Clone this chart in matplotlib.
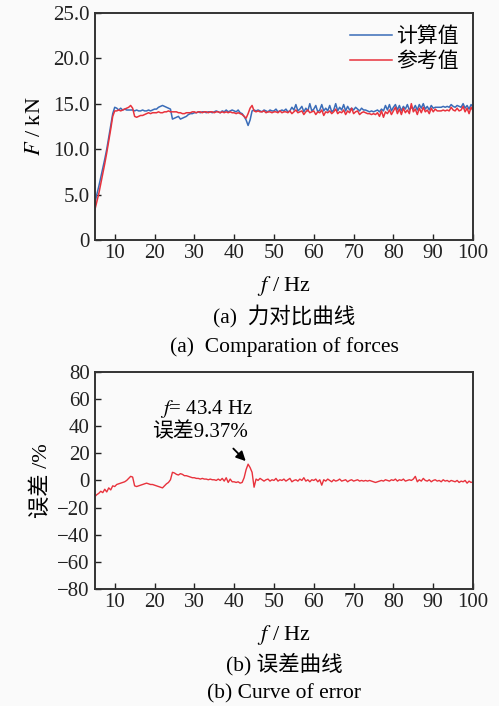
import matplotlib
matplotlib.use('Agg')
import matplotlib.pyplot as plt
import numpy as np

plt.rcParams['font.family'] = ['Liberation Serif', 'Noto Sans CJK SC']
plt.rcParams['mathtext.fontset'] = 'stix'

# 频率采样 (Hz), 0.5 Hz 间隔
freq = np.arange(5, 100.01, 0.5)

# 计算值 (kN)
f_calc = [
    4.0, 5.0, 5.9, 6.9, 7.9, 8.9, 10.0, 11.3, 12.6, 13.9,
    14.6, 14.5, 14.3, 14.5, 14.3, 14.4, 14.3, 14.3, 14.3, 14.3,
    14.2, 14.3, 14.2, 14.2, 14.3, 14.2, 14.2, 14.3, 14.2, 14.3,
    14.4, 14.4, 14.6, 14.7, 14.8, 14.7, 14.6, 14.5, 14.4, 13.3,
    13.4, 13.5, 13.6, 13.3, 13.4, 13.5, 13.6, 13.8, 13.9, 13.9,
    14.0, 14.0, 14.1, 14.0, 14.1, 14.1, 14.0, 14.1, 14.1, 14.0,
    14.1, 14.2, 14.1, 14.0, 14.2, 14.1, 14.3, 14.1, 14.2, 14.3,
    14.2, 14.1, 14.3, 14.0, 13.9, 13.6, 13.2, 12.6, 13.2, 14.2,
    14.3, 14.2, 14.3, 14.2, 14.1, 14.3, 14.2, 14.1, 14.3, 14.2,
    14.2, 14.4, 14.1, 14.2, 14.3, 14.2, 14.4, 14.1, 14.2, 14.6,
    14.3, 14.9, 14.2, 14.4, 14.7, 14.1, 14.5, 14.2, 15.0, 14.2,
    14.4, 14.8, 14.1, 14.3, 14.9, 14.2, 14.5, 14.2, 14.8, 14.1,
    14.3, 15.0, 14.2, 14.6, 14.3, 14.9, 14.2, 14.7, 14.3, 14.5,
    14.3, 14.6, 14.4, 14.2, 14.5, 14.3, 14.3, 14.2, 14.1, 14.2,
    14.1, 14.2, 14.3, 14.1, 14.4, 14.2, 14.8, 14.3, 14.9, 14.2,
    14.6, 14.9, 14.3, 14.8, 14.2, 14.7, 14.4, 14.9, 14.3, 14.6,
    14.4, 14.8, 14.3, 14.9, 14.5, 15.0, 14.4, 14.7, 14.3, 14.8,
    14.5, 14.6, 14.6, 14.6, 14.6, 14.7, 14.6, 14.7, 14.6, 14.9,
    14.7, 14.6, 14.8, 14.7, 14.6, 15.0, 14.5, 14.8, 14.4, 14.9,
    14.6,
]

# 参考值 (kN)
f_ref = [
    3.3, 4.2, 5.1, 6.2, 7.3, 8.4, 9.6, 10.9, 12.2, 13.6,
    14.2, 14.2, 14.3, 14.2, 14.3, 14.4, 14.5, 14.6, 14.8, 14.5,
    13.6, 13.5, 13.6, 13.7, 13.7, 13.8, 13.9, 14.0, 13.9, 14.0,
    14.0, 14.0, 14.1, 14.0, 14.0, 14.1, 14.1, 14.2, 14.1, 14.1,
    14.1, 14.1, 14.0, 14.0, 13.9, 13.9, 14.0, 14.0, 14.0, 14.1,
    14.1, 14.0, 14.1, 14.1, 14.0, 14.1, 14.1, 14.0, 14.1, 14.1,
    14.0, 14.1, 14.1, 14.0, 14.1, 14.0, 14.1, 14.0, 14.1, 14.0,
    14.0, 13.9, 14.0, 13.9, 13.8, 13.6, 13.4, 13.9, 14.5, 14.8,
    14.2, 14.1, 14.2, 14.1, 14.1, 14.2, 14.0, 14.1, 14.1, 14.0,
    14.1, 14.1, 14.0, 14.2, 14.0, 14.1, 14.1, 14.0, 14.2, 13.9,
    14.1, 14.3, 14.0, 14.1, 14.2, 13.8, 14.1, 14.3, 14.0, 14.1,
    14.2, 13.8, 14.1, 14.0, 14.3, 13.7, 14.1, 14.0, 14.2, 13.9,
    14.1, 14.4, 13.9, 14.1, 14.0, 14.3, 13.8, 14.2, 14.0, 14.5,
    13.9, 14.1, 14.2, 13.8, 14.0, 14.1, 14.0, 13.9, 13.9, 13.8,
    13.9, 13.8, 14.0, 13.6, 14.2, 13.5, 14.1, 13.9, 14.3, 13.8,
    14.2, 14.6, 13.9, 14.4, 13.8, 14.5, 14.0, 14.3, 13.9, 15.0,
    14.1, 14.4, 13.8, 14.5, 14.0, 14.6, 14.1, 14.3, 13.9, 14.5,
    14.1, 14.4, 14.2, 14.2, 14.2, 14.3, 14.2, 14.3, 14.2, 14.6,
    14.3, 14.2, 14.5, 14.2, 14.3, 14.7, 14.1, 14.5, 13.9, 14.6,
    14.2,
]

# 误差 (%)
err = [
    -12.0, -10.5, -9.5, -8.0, -9.0, -6.5, -8.5, -5.5, -7.0, -4.0,
    -4.5, -3.0, -2.5, -2.0, -1.5, -1.0, 0.0, 1.5, 3.0, 2.5,
    -4.0, -4.5, -4.0, -3.5, -3.0, -2.5, -2.0, -2.5, -3.0, -3.0,
    -3.5, -4.0, -4.5, -5.0, -5.5, -4.0, -2.5, -1.5, 0.5, 6.0,
    5.5, 4.5, 4.0, 5.0, 4.5, 3.5, 3.5, 3.0, 2.5, 2.0,
    2.0, 1.5, 1.5, 1.0, 1.5, 1.0, 1.0, 0.5, 1.0, 0.5,
    0.5, 0.0, 1.0, 0.0, 1.5, -0.5, 2.0, -1.5, 1.0, -1.0,
    -1.0, -1.5, -1.0, -2.0, -1.5, 2.0, 8.0, 12.0, 9.5, 6.0,
    -5.0, 1.0, 0.0, 1.5, 0.5, -0.5, 0.5, 1.0, -0.5, 0.5,
    0.0, 1.5, -0.5, 0.5, 0.0, 1.0, -0.5, 0.5, 1.5, -1.0,
    0.0, 0.5, -0.5, 1.0, 0.0, 2.0, -0.5, 0.5, -1.0, 0.5,
    0.0, 1.0, -1.0, 0.5, -3.5, 0.5, -0.5, 1.0, 0.0, -1.0,
    0.5, -0.5, 0.0, 1.0, -0.5, 0.0, 0.5, -1.0, 0.0, 0.5,
    -0.5, 0.0, 0.5, -0.5, 0.0, -0.5, 0.0, -0.5, 0.0, -0.5,
    -1.0, -1.5, -1.0, -0.5, 0.0, -0.5, 0.5, 0.0, -0.5, 0.5,
    0.0, 1.0, -0.5, 0.5, 0.0, 1.0, -0.5, 0.0, 0.5, 0.0,
    1.0, 3.0, -1.0, 0.5, -0.5, 1.5, 0.0, -0.5, 0.5, -1.0,
    0.0, 0.5, -0.5, 0.0, -1.0, 0.5, -0.5, 0.0, -1.0, 0.0,
    -0.5, -1.0, 0.0, -1.5, -0.5, -1.0, 0.0, -2.0, -0.5, -1.5,
    -1.0,
]

blue = '#3a6cb8'
red = '#e8323c'
bg = '#fafafa'

fig = plt.figure(figsize=(4.99, 7.06), dpi=100, facecolor=bg)
ax1 = fig.add_axes([0.190, 0.660, 0.758, 0.322], facecolor=bg)
ax2 = fig.add_axes([0.190, 0.166, 0.758, 0.307], facecolor=bg)

ax1.plot(freq, f_calc, color=blue, lw=1.1, label='计算值')
ax1.plot(freq, f_ref, color=red, lw=1.1, label='参考值')
ax1.set_xlim(5, 100)
ax1.set_ylim(0, 25)
ax1.set_yticks([0, 5, 10, 15, 20, 25])
ax1.set_yticklabels(['0', '5.0', '10.0', '15.0', '20.0', '25.0'])
ax1.set_ylabel(r'$F$ / kN', fontsize=16, labelpad=6)
leg = ax1.legend(loc='upper right', frameon=False, fontsize=15,
                 handlelength=2.0, handletextpad=0.2, labelspacing=0.25,
                 borderaxespad=0.3)

ax2.plot(freq, err, color=red, lw=1.0)
ax2.set_xlim(5, 100)
ax2.set_ylim(-80, 80)
ax2.set_yticks(range(-80, 81, 20))
ax2.set_yticklabels([str(v).replace('-', '\u2212') for v in range(-80, 81, 20)])
ax2.set_ylabel('误差 /%', fontsize=16, labelpad=4)
ax2.annotate('', xy=(43.4, 12.8), xytext=(39.3, 25),
             arrowprops=dict(arrowstyle='-|>', color='black', lw=1.3,
                             mutation_scale=14))
ax2.text(33, 52.5, r'$f$= 43.4 Hz', fontsize=15, ha='center', va='center')
ax2.text(31.5, 35.5, '误差9.37%', fontsize=15, ha='center', va='center')

for ax in (ax1, ax2):
    ax.set_xticks(range(10, 101, 10))
    ax.tick_params(axis='both', direction='in', length=4, width=1.0,
                   labelsize=15, colors='#222222', top=False, right=False)
    ax.tick_params(axis='x', pad=3)
    for s in ax.spines.values():
        s.set_linewidth(1.4)
        s.set_color('#333333')

fig.text(0.57, 0.595, r'$f$ / Hz', fontsize=16, ha='center', va='center')
fig.text(0.57, 0.551, '(a)  力对比曲线', fontsize=15.5, ha='center', va='center')
fig.text(0.57, 0.508, '(a)  Comparation of forces', fontsize=15.5, ha='center', va='center')
fig.text(0.57, 0.100, r'$f$ / Hz', fontsize=16, ha='center', va='center')
fig.text(0.57, 0.059, '(b) 误差曲线', fontsize=15.5, ha='center', va='center')
fig.text(0.57, 0.018, '(b) Curve of error', fontsize=15.5, ha='center', va='center')

fig.savefig('out.png', dpi=100, facecolor=bg)
